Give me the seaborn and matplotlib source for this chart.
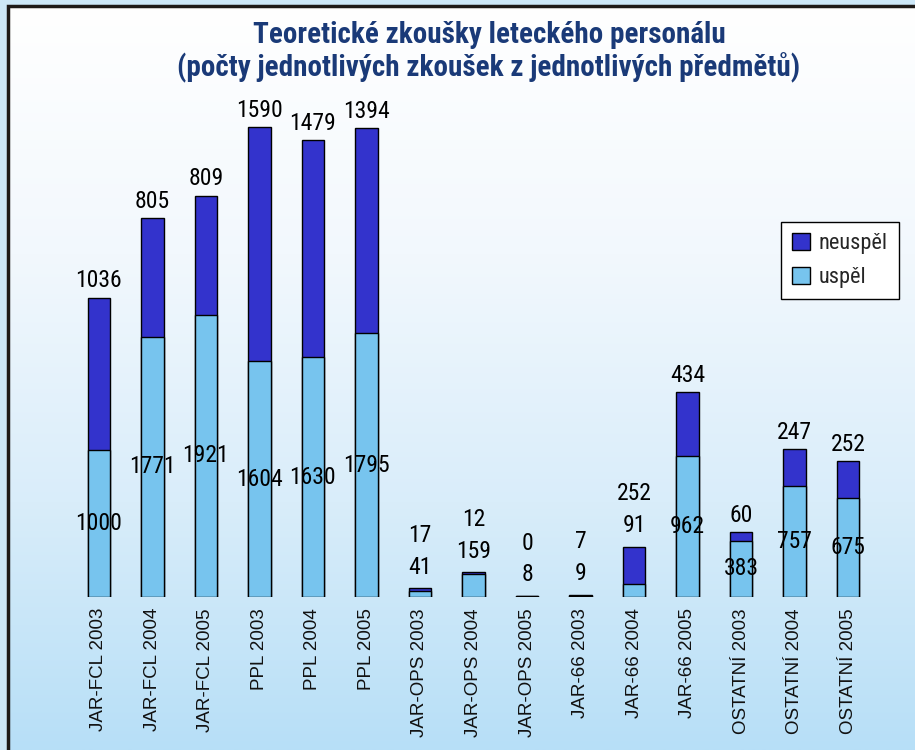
import numpy as np
import pandas as pd
import matplotlib
matplotlib.use("Agg")
import matplotlib.pyplot as plt
from matplotlib.patches import Rectangle, Patch
from matplotlib import font_manager
import seaborn as sns

# data
categories = ["JAR-FCL 2003", "JAR-FCL 2004", "JAR-FCL 2005",
              "PPL 2003", "PPL 2004", "PPL 2005",
              "JAR-OPS 2003", "JAR-OPS 2004", "JAR-OPS 2005",
              "JAR-66 2003", "JAR-66 2004", "JAR-66 2005",
              "OSTATNÍ 2003", "OSTATNÍ 2004", "OSTATNÍ 2005"]
uspel = [1000, 1771, 1921, 1604, 1630, 1795, 41, 159, 8, 9, 91, 962, 383, 757, 675]
neuspel = [1036, 805, 809, 1590, 1479, 1394, 17, 12, 0, 7, 252, 434, 60, 247, 252]

DARK = "#3333cc"
LIGHT = "#77c4ee"
NAVY = "#1a3a78"


def pick_font(names):
    for name in names:
        try:
            font_manager.findfont(font_manager.FontProperties(family=name),
                                  fallback_to_default=False)
            return name
        except Exception:
            continue
    return "DejaVu Sans"


narrow = pick_font(["Liberation Sans Narrow", "Roboto Condensed", "DejaVu Sans"])
regular = pick_font(["Liberation Sans", "Arial", "DejaVu Sans"])

sns.set_theme(style="white")
plt.rcParams["font.family"] = [regular, "DejaVu Sans"]

df = pd.DataFrame({"kategorie": categories, "uspel": uspel, "neuspel": neuspel})
df["celkem"] = df["uspel"] + df["neuspel"]

fig = plt.figure(figsize=(9.15, 7.5), dpi=100)

# background: light blue outside, white-to-blue gradient inside the frame
bg = fig.add_axes([0, 0, 1, 1], zorder=0)
bg.set_xlim(0, 915)
bg.set_ylim(750, 0)
bg.axis("off")
bg.add_patch(Rectangle((0, 0), 915, 750, color="#cde8f8"))
grad = np.linspace(0, 1, 256).reshape(-1, 1)
cmap = matplotlib.colors.LinearSegmentedColormap.from_list(
    "bgr", ["#ffffff", "#f2f8fd", "#d9edfa", "#b7dff7"])
bg.imshow(grad, extent=(8, 915, 750, 6), cmap=cmap, aspect="auto", zorder=1)
bg.plot([8, 8, 915], [750, 6, 6], color="#1e1a18", lw=2.5, zorder=2,
        solid_joinstyle="miter")

ax = fig.add_axes([72 / 915, 153 / 750, 803 / 915, 497 / 750], zorder=2)
ax.patch.set_alpha(0)

sns.barplot(data=df, x="kategorie", y="celkem", color=DARK, saturation=1,
            width=0.42, edgecolor="black", linewidth=1, ax=ax)
sns.barplot(data=df, x="kategorie", y="uspel", color=LIGHT, saturation=1,
            width=0.42, edgecolor="black", linewidth=1, ax=ax)

ax.set_ylim(0, 3380)
ax.set_xlim(-0.5, len(categories) - 0.5)
ax.set_xlabel("")
ax.set_ylabel("")
ax.set_yticks([])
sns.despine(ax=ax, left=True, bottom=True)
ax.tick_params(axis="x", length=0, pad=8)
ax.set_xticks(range(len(categories)))
ax.set_xticklabels(categories, rotation=90, fontsize=13.5, color="#111111",
                   family=[regular, "DejaVu Sans"])

lab_kw = dict(ha="center", fontsize=17, color="black",
              family=[narrow, "DejaVu Sans"], textcoords="offset points")
for i, (u, n) in enumerate(zip(uspel, neuspel)):
    top = u + n
    if u >= 300:
        ax.annotate(str(u), (i, u / 2), xytext=(0, 0), va="center", **lab_kw)
        ax.annotate(str(n), (i, top), xytext=(0, 12), va="center", **lab_kw)
    else:
        ax.annotate(str(u), (i, top), xytext=(0, 15), va="center", **lab_kw)
        ax.annotate(str(n), (i, top), xytext=(0, 38), va="center", **lab_kw)

fig.text(489 / 915, 1 - 35 / 750, "Teoretické zkoušky leteckého personálu",
         ha="center", va="center", fontsize=21, fontweight="bold", color=NAVY,
         family=[narrow, "DejaVu Sans"])
fig.text(489 / 915, 1 - 68 / 750, "(počty jednotlivých zkoušek z jednotlivých předmětů)",
         ha="center", va="center", fontsize=21, fontweight="bold", color=NAVY,
         family=[narrow, "DejaVu Sans"])

handles = [Patch(facecolor=DARK, edgecolor="black", label="neuspěl"),
           Patch(facecolor=LIGHT, edgecolor="black", label="uspěl")]
leg = fig.legend(handles=handles, loc="upper left",
                 bbox_to_anchor=(781 / 915, 1 - 222 / 750), borderaxespad=0,
                 frameon=True, fancybox=False, framealpha=1, edgecolor="black",
                 handlelength=0.8, handleheight=0.8, handletextpad=0.4,
                 labelspacing=0.55, borderpad=0.5,
                 prop=font_manager.FontProperties(family=[narrow, "DejaVu Sans"], size=16))
leg.get_frame().set_linewidth(1)

fig.savefig("out.png", dpi=100)
